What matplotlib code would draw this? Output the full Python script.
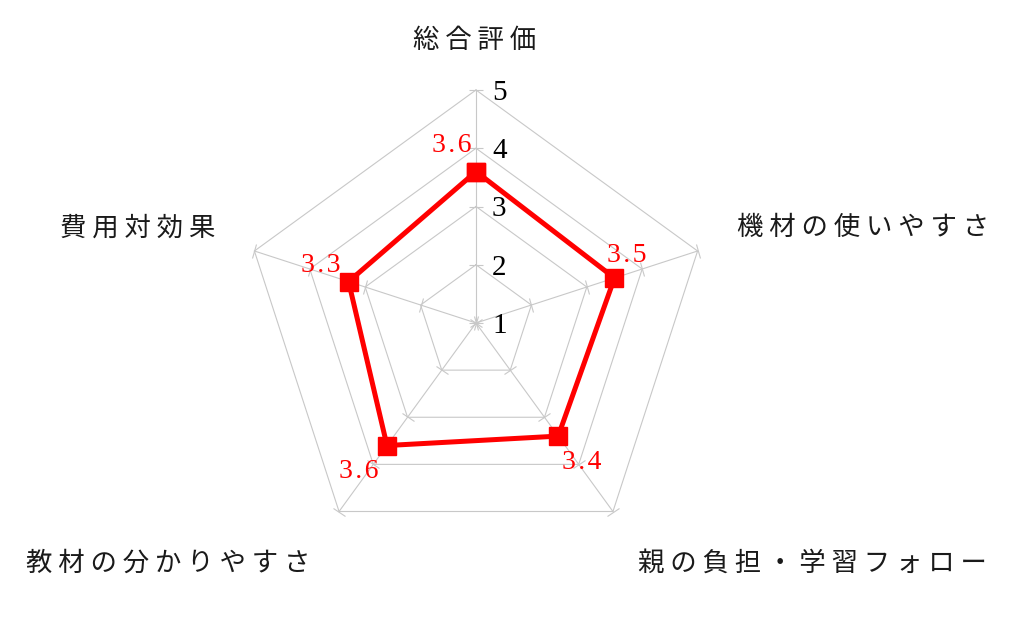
import numpy as np
import matplotlib.pyplot as plt
from matplotlib.markers import MarkerStyle
from matplotlib.transforms import Affine2D

# data
categories = ['総合評価', '機材の使いやすさ', '親の負担・学習フォロー', '教材の分かりやすさ', '費用対効果']
scores = [3.6, 3.5, 3.4, 3.6, 3.3]
levels = [1, 2, 3, 4, 5]

jp_font = ['Noto Sans CJK JP', 'DejaVu Sans']
num_font = ['Liberation Serif', 'DejaVu Serif']
red = '#ff0000'
grid_col = '#c8c8c8'

PX = 0.72  # pixels -> points at dpi 100

fig = plt.figure(figsize=(10.24, 6.17), dpi=100)
ax = fig.add_axes([243 / 1024, 61 / 617, 466 / 1024, 466 / 617], projection='polar')
ax.set_theta_offset(np.pi / 2)
ax.set_theta_direction(-1)
ax.set_ylim(levels[0], levels[-1])
ax.axis('off')

n = len(categories)
theta = np.arange(n) * 2 * np.pi / n
theta_loop = np.append(theta, theta[0])

# pentagon grid
for lv in levels[1:]:
    ax.plot(theta_loop, [lv] * (n + 1), color=grid_col, lw=0.8, zorder=1, clip_on=False)

# spokes with small perpendicular ticks
for t in theta:
    ax.plot([t, t], [levels[0], levels[-1]], color=grid_col, lw=0.8, zorder=1, clip_on=False)
    screen_ang = 90 - np.degrees(t)
    tick = MarkerStyle('_', transform=Affine2D().rotate_deg(screen_ang - 90))
    ax.plot([t] * len(levels), levels, ls='none', marker=tick, ms=10,
            mec=grid_col, mew=0.8, zorder=1, clip_on=False)

# axis value labels
for lv in levels:
    ax.annotate(str(lv), (0, lv), xytext=(11.5, 0), textcoords='offset points',
                ha='left', va='center_baseline', fontsize=21, family=num_font, color='black')

# data series
ax.plot(theta_loop, scores + [scores[0]], color=red, lw=3.6, marker='s', ms=13,
        zorder=3, clip_on=False)

# data labels (pixel offsets, y down)
lab_off = [(-24, -29), (12, -25), (24, 23), (-28, 23), (-28, -19)]
for t, v, (dx, dy) in zip(theta, scores, lab_off):
    txt = '\u200a'.join(f'{v:.1f}')
    ax.annotate(txt, (t, v), xytext=(dx * PX, -dy * PX), textcoords='offset points',
                ha='center', va='center_baseline', fontsize=20, family=num_font, color=red,
                zorder=4)

# category labels
cat_pos = [((-1, -50), 'center'), ((39, -24), 'left'), ((25, 52), 'left'),
           ((-29, 52), 'right'), ((-39, -23), 'right')]
for t, name, ((dx, dy), ha) in zip(theta, categories, cat_pos):
    ax.annotate(' '.join(name), (t, levels[-1]), xytext=(dx * PX, -dy * PX),
                textcoords='offset points', ha=ha, va='center', fontsize=19,
                family=jp_font, color='#1a1a1a')

fig.savefig('out.png', dpi=100)
